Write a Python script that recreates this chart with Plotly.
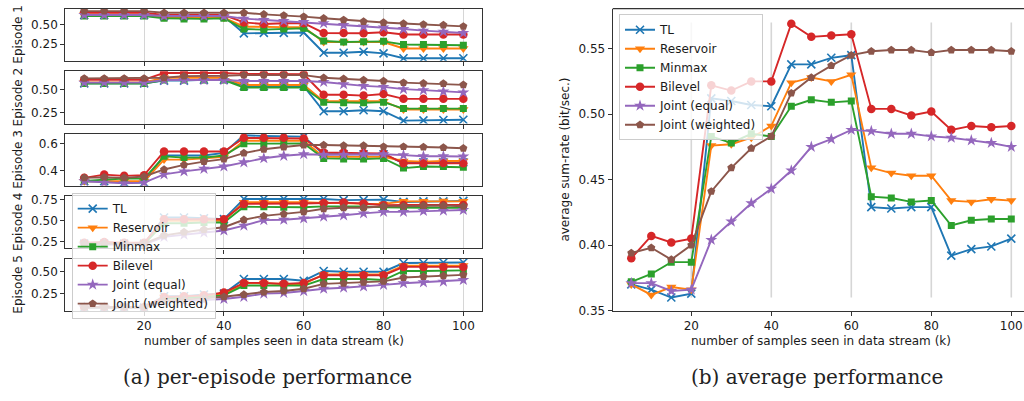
import plotly.graph_objects as go

# ---------------- data ----------------
samples_k = [5, 10, 15, 20, 25, 30, 35, 40, 45, 50, 55, 60, 65, 70, 75, 80, 85, 90, 95, 100]
methods = ["TL", "Reservoir", "Minmax", "Bilevel", "Joint (equal)", "Joint (weighted)"]
episode_labels = ["Episode 1", "Episode 2", "Episode 3", "Episode 4", "Episode 5"]
x_ticks = [20, 40, 60, 80, 100]

ep1_tl = [0.625, 0.625, 0.625, 0.625, 0.61, 0.61, 0.61, 0.61, 0.39, 0.395, 0.395, 0.40, 0.141, 0.141, 0.154, 0.133, 0.07, 0.07, 0.07, 0.07]
ep1_reservoir = [0.63, 0.63, 0.63, 0.63, 0.60, 0.59, 0.59, 0.59, 0.475, 0.47, 0.47, 0.47, 0.279, 0.279, 0.279, 0.279, 0.196, 0.196, 0.196, 0.196]
ep1_minmax = [0.612, 0.612, 0.612, 0.612, 0.583, 0.575, 0.575, 0.583, 0.445, 0.437, 0.445, 0.454, 0.291, 0.279, 0.283, 0.287, 0.246, 0.246, 0.246, 0.238]
ep1_bilevel = [0.654, 0.654, 0.654, 0.654, 0.625, 0.625, 0.625, 0.625, 0.53, 0.51, 0.52, 0.52, 0.395, 0.395, 0.391, 0.404, 0.375, 0.375, 0.375, 0.375]
ep1_joint_eq = [0.625, 0.625, 0.625, 0.625, 0.612, 0.612, 0.612, 0.612, 0.579, 0.562, 0.55, 0.537, 0.52, 0.496, 0.479, 0.466, 0.445, 0.425, 0.412, 0.395]
ep1_joint_w = [0.675, 0.675, 0.675, 0.675, 0.654, 0.654, 0.654, 0.654, 0.654, 0.633, 0.62, 0.604, 0.583, 0.562, 0.541, 0.529, 0.516, 0.504, 0.496, 0.479]

ep2_tl = [0.57, 0.57, 0.57, 0.57, 0.60, 0.60, 0.61, 0.61, 0.54, 0.54, 0.54, 0.54, 0.264, 0.264, 0.275, 0.264, 0.161, 0.164, 0.168, 0.171]
ep2_reservoir = [0.58, 0.58, 0.58, 0.58, 0.632, 0.632, 0.632, 0.632, 0.553, 0.553, 0.553, 0.553, 0.375, 0.375, 0.375, 0.375, 0.282, 0.282, 0.282, 0.282]
ep2_minmax = [0.568, 0.568, 0.568, 0.568, 0.607, 0.607, 0.607, 0.607, 0.525, 0.525, 0.525, 0.525, 0.364, 0.357, 0.357, 0.364, 0.293, 0.293, 0.293, 0.293]
ep2_bilevel = [0.61, 0.61, 0.61, 0.61, 0.685, 0.685, 0.685, 0.685, 0.675, 0.675, 0.67, 0.67, 0.446, 0.446, 0.436, 0.454, 0.40, 0.40, 0.40, 0.40]
ep2_joint_eq = [0.578, 0.578, 0.578, 0.578, 0.607, 0.607, 0.607, 0.607, 0.596, 0.596, 0.596, 0.596, 0.586, 0.561, 0.543, 0.532, 0.507, 0.496, 0.482, 0.471]
ep2_joint_w = [0.625, 0.625, 0.625, 0.625, 0.632, 0.65, 0.65, 0.654, 0.661, 0.661, 0.661, 0.661, 0.632, 0.621, 0.607, 0.596, 0.578, 0.571, 0.568, 0.554]

ep3_tl = [0.32, 0.32, 0.31, 0.31, 0.51, 0.51, 0.51, 0.53, 0.66, 0.655, 0.655, 0.65, 0.52, 0.52, 0.52, 0.52, 0.453, 0.46, 0.46, 0.46]
ep3_reservoir = [0.32, 0.32, 0.32, 0.32, 0.48, 0.48, 0.49, 0.50, 0.62, 0.62, 0.62, 0.62, 0.50, 0.50, 0.50, 0.50, 0.47, 0.465, 0.47, 0.47]
ep3_minmax = [0.323, 0.33, 0.34, 0.34, 0.504, 0.495, 0.495, 0.51, 0.598, 0.598, 0.60, 0.60, 0.489, 0.484, 0.484, 0.489, 0.417, 0.429, 0.429, 0.424]
ep3_bilevel = [0.345, 0.369, 0.36, 0.365, 0.54, 0.54, 0.54, 0.54, 0.641, 0.641, 0.641, 0.636, 0.533, 0.533, 0.528, 0.526, 0.453, 0.453, 0.455, 0.453]
ep3_joint_eq = [0.32, 0.31, 0.305, 0.31, 0.371, 0.393, 0.412, 0.429, 0.46, 0.49, 0.508, 0.52, 0.516, 0.516, 0.52, 0.52, 0.513, 0.505, 0.505, 0.503]
ep3_joint_w = [0.345, 0.35, 0.345, 0.355, 0.407, 0.441, 0.465, 0.484, 0.528, 0.557, 0.573, 0.588, 0.588, 0.584, 0.584, 0.576, 0.576, 0.573, 0.57, 0.564]

ep4_tl = [0.23, 0.23, 0.23, 0.23, 0.539, 0.539, 0.53, 0.52, 0.758, 0.758, 0.758, 0.758, 0.758, 0.745, 0.745, 0.75, 0.723, 0.73, 0.73, 0.735]
ep4_reservoir = [0.23, 0.23, 0.23, 0.23, 0.50, 0.50, 0.50, 0.50, 0.72, 0.72, 0.72, 0.72, 0.71, 0.71, 0.70, 0.70, 0.73, 0.73, 0.735, 0.73]
ep4_minmax = [0.225, 0.225, 0.225, 0.225, 0.47, 0.47, 0.48, 0.48, 0.666, 0.666, 0.66, 0.66, 0.67, 0.67, 0.67, 0.66, 0.654, 0.654, 0.654, 0.654]
ep4_bilevel = [0.24, 0.25, 0.24, 0.24, 0.519, 0.519, 0.519, 0.519, 0.70, 0.70, 0.70, 0.704, 0.71, 0.715, 0.704, 0.683, 0.687, 0.687, 0.687, 0.687]
ep4_joint_eq = [0.22, 0.22, 0.22, 0.22, 0.31, 0.335, 0.36, 0.385, 0.443, 0.508, 0.512, 0.527, 0.55, 0.565, 0.588, 0.605, 0.605, 0.616, 0.62, 0.628]
ep4_joint_w = [0.23, 0.23, 0.23, 0.23, 0.328, 0.366, 0.397, 0.424, 0.512, 0.558, 0.58, 0.605, 0.643, 0.654, 0.654, 0.672, 0.672, 0.68, 0.68, 0.672]

ep5_tl = [0.09, 0.09, 0.09, 0.09, 0.22, 0.22, 0.24, 0.25, 0.416, 0.416, 0.416, 0.397, 0.508, 0.50, 0.50, 0.50, 0.599, 0.599, 0.605, 0.605]
ep5_reservoir = [0.09, 0.09, 0.09, 0.09, 0.21, 0.21, 0.22, 0.24, 0.37, 0.37, 0.36, 0.36, 0.47, 0.47, 0.47, 0.47, 0.57, 0.57, 0.57, 0.57]
ep5_minmax = [0.09, 0.09, 0.09, 0.09, 0.20, 0.20, 0.21, 0.23, 0.342, 0.342, 0.34, 0.342, 0.416, 0.416, 0.416, 0.405, 0.508, 0.508, 0.508, 0.515]
ep5_bilevel = [0.095, 0.095, 0.095, 0.095, 0.21, 0.22, 0.23, 0.262, 0.372, 0.372, 0.361, 0.372, 0.46, 0.46, 0.46, 0.46, 0.555, 0.555, 0.555, 0.555]
ep5_joint_eq = [0.09, 0.09, 0.09, 0.09, 0.158, 0.165, 0.175, 0.188, 0.213, 0.25, 0.257, 0.279, 0.305, 0.317, 0.331, 0.35, 0.368, 0.379, 0.386, 0.405]
ep5_joint_w = [0.095, 0.095, 0.095, 0.095, 0.17, 0.18, 0.195, 0.213, 0.24, 0.268, 0.279, 0.305, 0.361, 0.368, 0.379, 0.39, 0.434, 0.445, 0.453, 0.464]

avg_tl = [0.370, 0.366, 0.360, 0.363, 0.512, 0.510, 0.507, 0.506, 0.538, 0.538, 0.543, 0.545, 0.429, 0.428, 0.429, 0.429, 0.392, 0.397, 0.399, 0.405]
avg_reservoir = [0.370, 0.362, 0.368, 0.366, 0.476, 0.477, 0.482, 0.491, 0.524, 0.528, 0.525, 0.530, 0.459, 0.455, 0.453, 0.453, 0.434, 0.433, 0.435, 0.434]
avg_minmax = [0.372, 0.378, 0.387, 0.387, 0.483, 0.478, 0.485, 0.483, 0.506, 0.511, 0.509, 0.510, 0.437, 0.436, 0.433, 0.434, 0.415, 0.419, 0.420, 0.420]
avg_bilevel = [0.390, 0.407, 0.402, 0.405, 0.522, 0.518, 0.525, 0.525, 0.569, 0.559, 0.560, 0.561, 0.504, 0.504, 0.499, 0.502, 0.488, 0.491, 0.490, 0.491]
avg_joint_eq = [0.371, 0.371, 0.365, 0.366, 0.404, 0.418, 0.432, 0.443, 0.457, 0.475, 0.481, 0.488, 0.487, 0.485, 0.485, 0.483, 0.482, 0.480, 0.478, 0.475]
avg_joint_w = [0.394, 0.398, 0.389, 0.400, 0.441, 0.459, 0.474, 0.483, 0.516, 0.528, 0.537, 0.545, 0.548, 0.549, 0.549, 0.547, 0.549, 0.549, 0.549, 0.548]

episodes = [
    [ep1_tl, ep1_reservoir, ep1_minmax, ep1_bilevel, ep1_joint_eq, ep1_joint_w],
    [ep2_tl, ep2_reservoir, ep2_minmax, ep2_bilevel, ep2_joint_eq, ep2_joint_w],
    [ep3_tl, ep3_reservoir, ep3_minmax, ep3_bilevel, ep3_joint_eq, ep3_joint_w],
    [ep4_tl, ep4_reservoir, ep4_minmax, ep4_bilevel, ep4_joint_eq, ep4_joint_w],
    [ep5_tl, ep5_reservoir, ep5_minmax, ep5_bilevel, ep5_joint_eq, ep5_joint_w],
]
average = [avg_tl, avg_reservoir, avg_minmax, avg_bilevel, avg_joint_eq, avg_joint_w]

# ---------------- style ----------------
colors = ["#1f77b4", "#ff7f0e", "#2ca02c", "#d62728", "#9467bd", "#8c564b"]
symbols = ["x-thin", "triangle-down", "square", "circle", "star", "pentagon"]
msizes = [8, 9, 7, 8.5, 9, 8.5]

W, H = 1024, 401
FONT = "DejaVu Sans"
SPINE = "#333333"
GRID = "#d6d6d6"

def px_x(p):
    return p / W

def px_y(p):
    return 1 - p / H

left_x = [px_x(65.3), px_x(482.3)]
ep_px = [(5.7, 59.3), (70.0, 123.6), (134.0, 187.5), (197.7, 251.7), (262.3, 315.5)]
ep_ranges = [[0.0375, 0.7075], [0.129, 0.7036], [0.286, 0.672], [0.173, 0.796], [0.055, 0.648]]
ep_ticks = [[0.25, 0.50], [0.25, 0.50], [0.4, 0.6], [0.25, 0.50, 0.75], [0.25, 0.50]]
ep_fmt = [".2f", ".2f", ".1f", ".2f", ".2f"]
xr = [0.25, 104.75]

right_x = [px_x(612.7), 1.0]
right_xr = [0.35, 20 + (1024 - 691.3) / 4]
right_y = [px_y(315.5), px_y(5.7)]

fig = go.Figure()

def marker(i):
    if symbols[i] == "x-thin":
        return dict(symbol="x-thin", size=msizes[i], color=colors[i],
                    line=dict(width=1.6, color=colors[i]))
    return dict(symbol=symbols[i], size=msizes[i], color=colors[i], line=dict(width=0))

for e, series in enumerate(episodes):
    ax = "" if e == 0 else str(e + 1)
    for i, vals in enumerate(series):
        fig.add_trace(go.Scatter(
            x=samples_k, y=vals, mode="lines+markers", name=methods[i],
            line=dict(color=colors[i], width=1.9), marker=marker(i),
            xaxis="x" + ax, yaxis="y" + ax,
            legend="legend", showlegend=(e == 0), cliponaxis=True,
        ))

for i, vals in enumerate(average):
    fig.add_trace(go.Scatter(
        x=samples_k, y=vals, mode="lines+markers", name=methods[i],
        line=dict(color=colors[i], width=1.9), marker=marker(i),
        xaxis="x6", yaxis="y6", legend="legend2", showlegend=True,
    ))

layout = dict(
    width=W, height=H, margin=dict(l=0, r=0, t=0, b=0),
    paper_bgcolor="white", plot_bgcolor="white",
    font=dict(family=FONT, size=12, color="#1a1a1a"),
    showlegend=True,
)

tickfont = dict(family=FONT, size=12, color="#1a1a1a")
for e in range(5):
    ax = "" if e == 0 else str(e + 1)
    top, bot = ep_px[e]
    layout["xaxis" + ax] = dict(
        domain=left_x, range=xr, anchor="y" + ax, tickvals=x_ticks,
        showticklabels=(e == 4), ticks="outside", ticklen=4, tickwidth=1.1, tickcolor=SPINE,
        showline=True, linecolor=SPINE, linewidth=1.2, mirror=True,
        showgrid=True, gridcolor=GRID, gridwidth=1.4, zeroline=False, tickfont=tickfont,
    )
    layout["yaxis" + ax] = dict(
        domain=[px_y(bot), px_y(top)], range=ep_ranges[e], anchor="x" + ax,
        tickvals=ep_ticks[e], tickformat=ep_fmt[e], ticks="outside", ticklen=4,
        tickwidth=1.1, tickcolor=SPINE, showline=True, linecolor=SPINE, linewidth=1.2,
        mirror=True, showgrid=False, zeroline=False, tickfont=tickfont,
    )

layout["xaxis6"] = dict(
    domain=right_x, range=right_xr, anchor="y6", tickvals=x_ticks,
    ticks="outside", ticklen=4, tickwidth=1.1, tickcolor=SPINE,
    showline=True, linecolor=SPINE, linewidth=1.2, mirror=False,
    showgrid=False, zeroline=False, tickfont=tickfont,
)
layout["yaxis6"] = dict(
    domain=right_y, range=[0.35, 0.5806], anchor="x6",
    tickvals=[0.35, 0.40, 0.45, 0.50, 0.55], tickformat=".2f",
    ticks="outside", ticklen=4, tickwidth=1.1, tickcolor=SPINE,
    showline=True, linecolor=SPINE, linewidth=1.2, mirror=False,
    showgrid=False, zeroline=False, tickfont=tickfont,
)

legend_style = dict(
    bgcolor="rgba(255,255,255,0.8)", bordercolor="#cccccc", borderwidth=1,
    font=dict(family=FONT, size=12, color="#1a1a1a"),
    xanchor="left", yanchor="top", tracegroupgap=0, itemwidth=30,
)
layout["legend"] = dict(legend_style, x=px_x(71.7), y=px_y(195))
layout["legend2"] = dict(legend_style, x=px_x(619), y=px_y(11.5))

shapes = []
# right-panel vertical reference lines
for xv in x_ticks:
    shapes.append(dict(type="line", xref="x6", yref="y6", x0=xv, x1=xv, y0=0.36, y1=0.57,
                       line=dict(color=GRID, width=1.6), layer="below"))
# right-panel top spine (right spine is outside the picture)
shapes.append(dict(type="line", xref="paper", yref="paper", x0=right_x[0], x1=1.0,
                   y0=right_y[1], y1=right_y[1], line=dict(color=SPINE, width=1.2)))
layout["shapes"] = shapes

annotations = []
for e in range(5):
    top, bot = ep_px[e]
    annotations.append(dict(text=episode_labels[e], xref="paper", yref="paper",
                            x=px_x(18), y=px_y((top + bot) / 2), textangle=-90,
                            showarrow=False, xanchor="center", yanchor="middle",
                            font=dict(family=FONT, size=12, color="#1a1a1a")))
annotations.append(dict(text="average sum-rate (bit/sec.)", xref="paper", yref="paper",
                        x=px_x(565), y=px_y((5.7 + 315.5) / 2), textangle=-90,
                        showarrow=False, xanchor="center", yanchor="middle",
                        font=dict(family=FONT, size=12, color="#1a1a1a")))
for cx in [273.8, 820.5]:
    annotations.append(dict(text="number of samples seen in data stream (k)", xref="paper",
                            yref="paper", x=px_x(cx), y=px_y(347), showarrow=False,
                            xanchor="center", yanchor="middle",
                            font=dict(family=FONT, size=12, color="#1a1a1a")))
annotations.append(dict(text="(a) per-episode performance", xref="paper", yref="paper",
                        x=px_x(267), y=px_y(384), showarrow=False, xanchor="center",
                        yanchor="middle", font=dict(family="DejaVu Serif", size=20, color="#222222")))
annotations.append(dict(text="(b) average performance", xref="paper", yref="paper",
                        x=px_x(817), y=px_y(384), showarrow=False, xanchor="center",
                        yanchor="middle", font=dict(family="DejaVu Serif", size=20, color="#222222")))
layout["annotations"] = annotations

fig.update_layout(**layout)
fig.write_html("out.html")
